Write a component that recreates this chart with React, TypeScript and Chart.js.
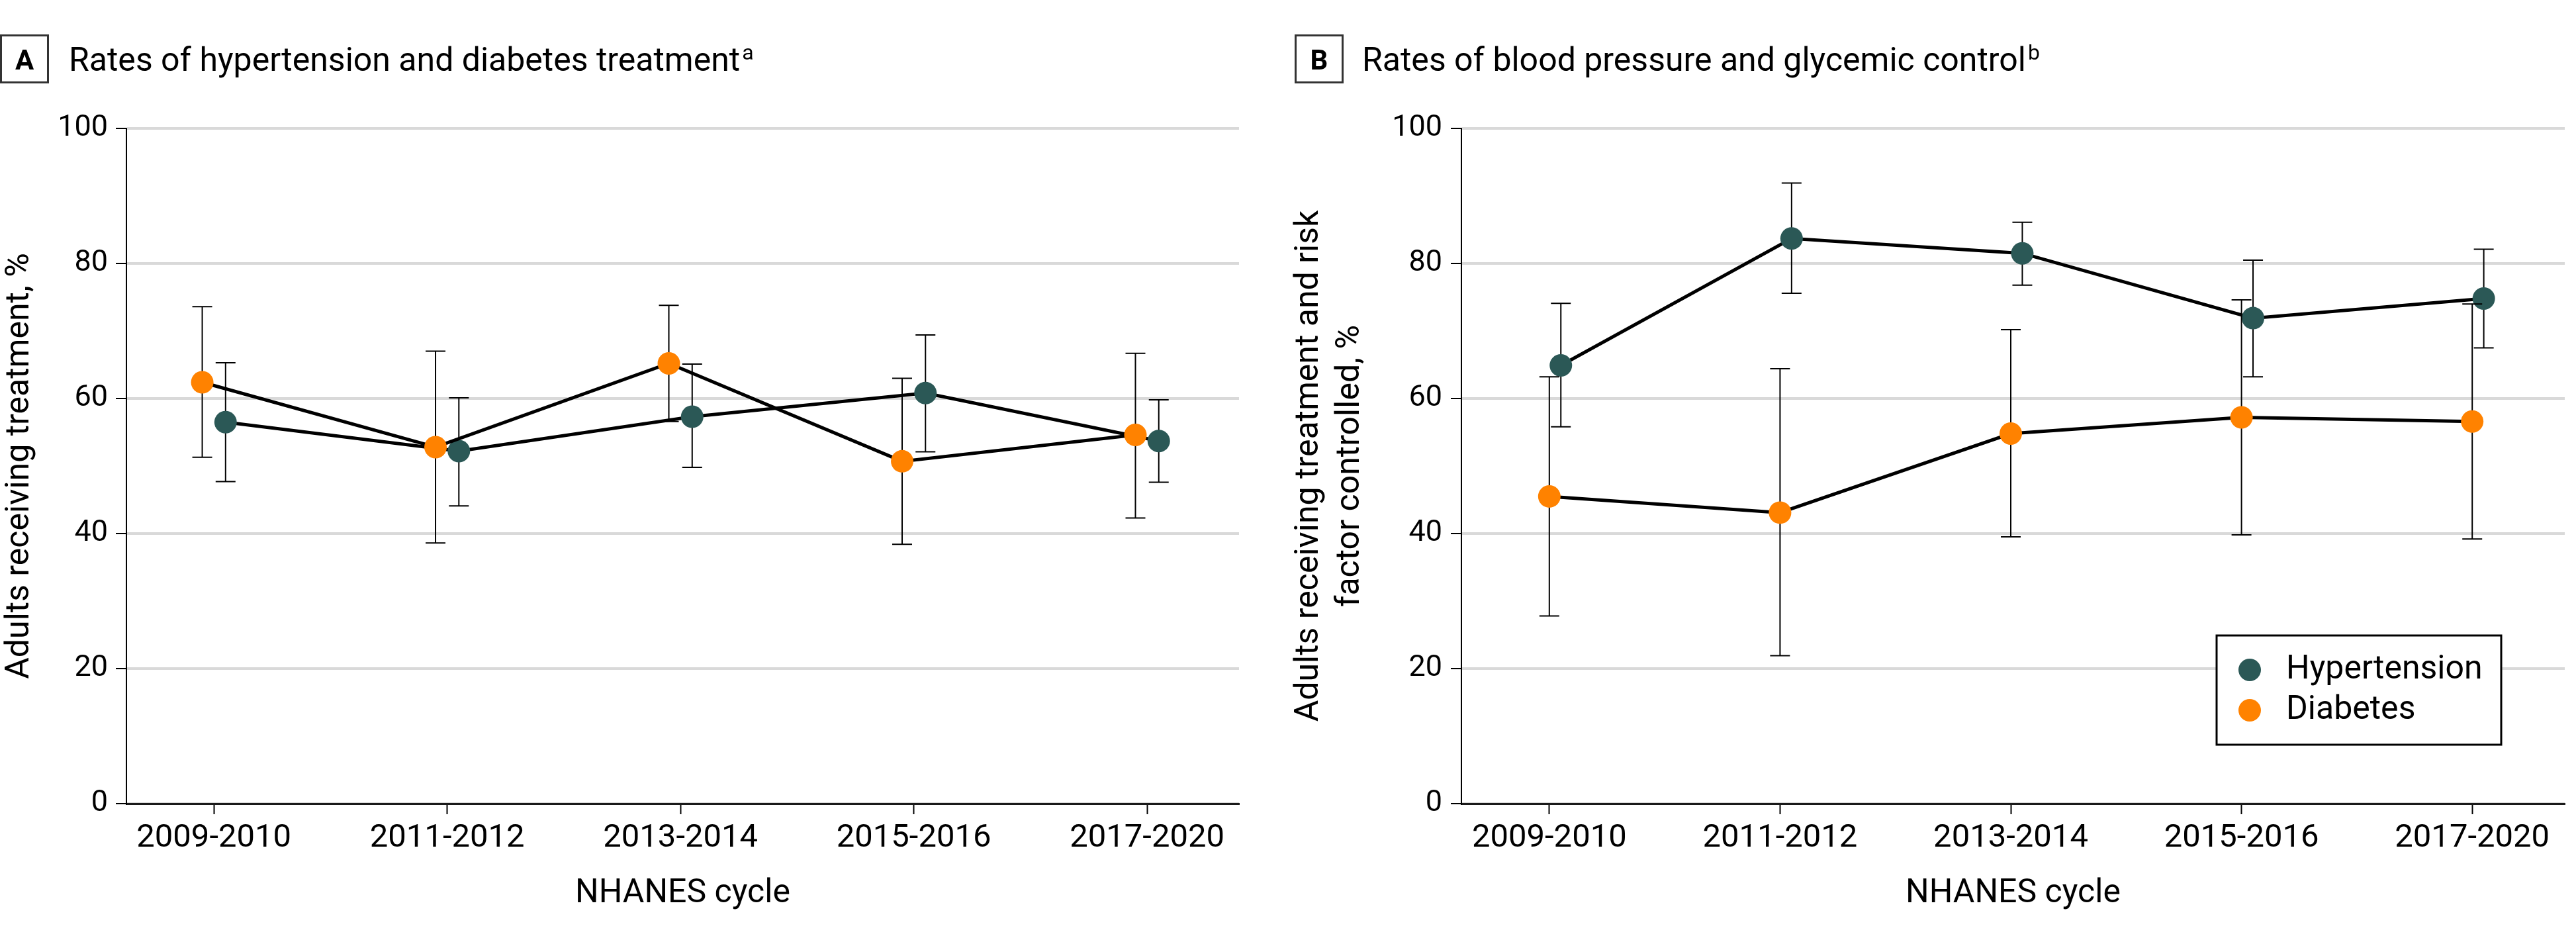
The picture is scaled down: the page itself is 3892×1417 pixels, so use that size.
import React, { useEffect, useRef } from 'react';
import { Chart, registerables } from 'chart.js';

Chart.register(...registerables);

const FONT = 'Roboto';

// ---- data ----
const CYCLES = ['2009-2010', '2011-2012', '2013-2014', '2015-2016', '2017-2020'];
const Y_MIN = 0;
const Y_MAX = 100;
const Y_STEP = 20;

// Panel A: treatment
const TREAT_HTN = [56.5, 52.2, 57.3, 60.8, 53.7];
const TREAT_HTN_LO = [47.7, 44.1, 49.8, 52.1, 47.6];
const TREAT_HTN_HI = [65.3, 60.1, 65.1, 69.4, 59.8];
const TREAT_DM = [62.4, 52.8, 65.2, 50.7, 54.6];
const TREAT_DM_LO = [51.3, 38.6, 56.6, 38.4, 42.3];
const TREAT_DM_HI = [73.6, 67.0, 73.8, 63.0, 66.7];

// Panel B: control
const CTRL_HTN = [64.9, 83.7, 81.5, 71.9, 74.8];
const CTRL_HTN_LO = [55.8, 75.6, 76.8, 63.2, 67.5];
const CTRL_HTN_HI = [74.1, 91.9, 86.1, 80.5, 82.1];
const CTRL_DM = [45.5, 43.1, 54.8, 57.2, 56.6];
const CTRL_DM_LO = [27.8, 21.9, 39.5, 39.8, 39.2];
const CTRL_DM_HI = [63.2, 64.4, 70.2, 74.6, 74.0];

const SERIES_NAMES = ['Hypertension', 'Diabetes'];
const COLOR_HTN = '#2b5856';
const COLOR_DM = '#ff8200';

type PanelCfg = {
  letter: string;
  title: string;
  sup: string;
  yTitle: string | string[];
  yTitleSize: number;
  yTitleLineHeight: number;
  yTitlePadTop: number;
  htn: number[]; htnLo: number[]; htnHi: number[];
  dm: number[]; dmLo: number[]; dmHi: number[];
  htnShift: number; dmShift: number;
  xMin: number; xMax: number;
  yAxisWidth: number; padRight: number;
  boxX: number; titleX: number;
  yTickPad: number;
  legend: boolean;
};

const headerPlugin = {
  id: 'header',
  afterDraw(chart: any, _args: any, opts: any) {
    const ctx = chart.ctx;
    ctx.save();
    ctx.strokeStyle = '#333';
    ctx.lineWidth = 3;
    ctx.strokeRect(opts.boxX + 1.5, 53.5, 71, 71);
    ctx.fillStyle = '#000';
    ctx.font = `bold 42px ${FONT}`;
    ctx.textAlign = 'center';
    ctx.textBaseline = 'alphabetic';
    ctx.fillText(opts.letter, opts.boxX + 37, 105);
    ctx.font = `50px ${FONT}`;
    ctx.textAlign = 'left';
    ctx.fillText(opts.title, opts.titleX, 107);
    const w = ctx.measureText(opts.title).width;
    ctx.font = `32px ${FONT}`;
    ctx.fillText(opts.sup, opts.titleX + w + 3, 90);
    ctx.restore();
  },
};

const errorBarPlugin = {
  id: 'errorBars',
  beforeDatasetDraw(chart: any, args: any) {
    const ds = chart.data.datasets[args.index];
    if (!ds.errLo) return;
    const ctx = chart.ctx;
    const xs = chart.scales.x;
    const ys = chart.scales.y;
    ctx.save();
    ctx.strokeStyle = '#000';
    ctx.lineWidth = 2;
    ds.data.forEach((p: any, i: number) => {
      const x = xs.getPixelForValue(p.x);
      const yl = ys.getPixelForValue(ds.errLo[i]);
      const yh = ys.getPixelForValue(ds.errHi[i]);
      ctx.beginPath();
      ctx.moveTo(x, yl);
      ctx.lineTo(x, yh);
      ctx.moveTo(x - 15, yl);
      ctx.lineTo(x + 15, yl);
      ctx.moveTo(x - 15, yh);
      ctx.lineTo(x + 15, yh);
      ctx.stroke();
    });
    ctx.restore();
  },
};

const boxLegendPlugin = {
  id: 'boxLegend',
  afterDraw(chart: any, _args: any, opts: any) {
    if (!opts.show) return;
    const ctx = chart.ctx;
    const { right, bottom } = chart.chartArea;
    const bw = 430;
    const bh = 165;
    const bx = right - 96 - bw;
    const by = bottom - 89 - bh;
    ctx.save();
    ctx.fillStyle = '#fff';
    ctx.fillRect(bx, by, bw, bh);
    ctx.strokeStyle = '#000';
    ctx.lineWidth = 3;
    ctx.strokeRect(bx, by, bw, bh);
    const items = [...chart.data.datasets].sort((a: any, b: any) => a.legendIndex - b.legendIndex);
    items.forEach((ds: any, i: number) => {
      const cy = by + 52 + i * 61;
      ctx.beginPath();
      ctx.arc(bx + 50, cy, 17, 0, Math.PI * 2);
      ctx.fillStyle = ds.backgroundColor;
      ctx.fill();
      ctx.fillStyle = '#000';
      ctx.font = `50px ${FONT}`;
      ctx.textAlign = 'left';
      ctx.textBaseline = 'middle';
      ctx.fillText(ds.label, bx + 105, cy);
    });
    ctx.restore();
  },
};

function buildChart(canvas: HTMLCanvasElement, c: PanelCfg) {
  const mk = (vals: number[], shift: number) => vals.map((v, i) => ({ x: i + shift, y: v }));
  return new Chart(canvas, {
    type: 'line',
    data: {
      datasets: [
        {
          label: SERIES_NAMES[0],
          data: mk(c.htn, c.htnShift),
          errLo: c.htnLo,
          errHi: c.htnHi,
          legendIndex: 0,
          order: 1,
          borderColor: '#000',
          borderWidth: 5,
          backgroundColor: COLOR_HTN,
          pointBackgroundColor: COLOR_HTN,
          pointBorderWidth: 0,
          pointRadius: 17,
          tension: 0,
        } as any,
        {
          label: SERIES_NAMES[1],
          data: mk(c.dm, c.dmShift),
          errLo: c.dmLo,
          errHi: c.dmHi,
          legendIndex: 1,
          order: 0,
          borderColor: '#000',
          borderWidth: 5,
          backgroundColor: COLOR_DM,
          pointBackgroundColor: COLOR_DM,
          pointBorderWidth: 0,
          pointRadius: 17,
          tension: 0,
        } as any,
      ],
    },
    options: {
      responsive: false,
      maintainAspectRatio: false,
      animation: false,
      devicePixelRatio: 1,
      layout: { padding: { left: 0, top: 194, right: c.padRight, bottom: 0 } },
      plugins: {
        legend: { display: false },
        tooltip: { enabled: false },
        title: { display: false },
        header: { letter: c.letter, title: c.title, sup: c.sup, boxX: c.boxX, titleX: c.titleX },
        boxLegend: { show: c.legend },
      } as any,
      scales: {
        x: {
          type: 'linear',
          min: c.xMin,
          max: c.xMax,
          afterBuildTicks: (s: any) => {
            s.ticks = CYCLES.map((_, i) => ({ value: i }));
          },
          afterFit: (s: any) => {
            s.height = 203;
          },
          ticks: {
            callback: (v: any) => CYCLES[Math.round(Number(v))],
            font: { family: FONT, size: 49 },
            color: '#000',
            padding: 7,
            maxRotation: 0,
            minRotation: 0,
            autoSkip: false,
          },
          grid: {
            drawOnChartArea: false,
            drawTicks: true,
            tickLength: 16,
            tickWidth: 2,
            tickColor: '#000',
          },
          border: { display: true, color: '#1a1a1a', width: 3 },
          title: {
            display: true,
            text: 'NHANES cycle',
            color: '#000',
            font: { family: FONT, size: 50 },
            padding: { top: 0, bottom: 37 },
          },
        },
        y: {
          min: Y_MIN,
          max: Y_MAX,
          afterFit: (s: any) => {
            s.width = c.yAxisWidth;
          },
          ticks: {
            stepSize: Y_STEP,
            font: { family: FONT, size: 45 },
            color: '#000',
            padding: c.yTickPad,
          },
          grid: {
            color: '#d9d9d9',
            lineWidth: 4,
            drawTicks: true,
            tickLength: 16,
            tickWidth: 2,
            tickColor: '#000',
          },
          border: { display: true, color: '#000', width: 2 },
          title: {
            display: true,
            text: c.yTitle,
            color: '#000',
            font: { family: FONT, size: c.yTitleSize, lineHeight: c.yTitleLineHeight },
            padding: { top: c.yTitlePadTop, bottom: 0 },
          },
        },
      },
    } as any,
    plugins: [errorBarPlugin, headerPlugin, boxLegendPlugin],
  });
}

const PANEL_A: PanelCfg = {
  letter: 'A',
  title: 'Rates of hypertension and diabetes treatment',
  sup: 'a',
  yTitle: 'Adults receiving treatment, %',
  yTitleSize: 50,
  yTitleLineHeight: 1.2,
  yTitlePadTop: 0,
  htn: TREAT_HTN, htnLo: TREAT_HTN_LO, htnHi: TREAT_HTN_HI,
  dm: TREAT_DM, dmLo: TREAT_DM_LO, dmHi: TREAT_DM_HI,
  htnShift: 0.05, dmShift: -0.05,
  xMin: -0.375, xMax: 4.394,
  yAxisWidth: 191, padRight: 58,
  boxX: 0, titleX: 104,
  yTickPad: 12,
  legend: false,
};

const PANEL_B: PanelCfg = {
  letter: 'B',
  title: 'Rates of blood pressure and glycemic control',
  sup: 'b',
  yTitle: ['Adults receiving treatment and risk', 'factor controlled, %'],
  yTitleSize: 50,
  yTitleLineHeight: 1.24,
  yTitlePadTop: 17,
  htn: CTRL_HTN, htnLo: CTRL_HTN_LO, htnHi: CTRL_HTN_HI,
  dm: CTRL_DM, dmLo: CTRL_DM_LO, dmHi: CTRL_DM_HI,
  htnShift: 0.05, dmShift: 0,
  xMin: -0.381, xMax: 4.401,
  yAxisWidth: 278, padRight: 2,
  boxX: 26, titleX: 128,
  yTickPad: 13,
  legend: true,
};

export default function App() {
  const refA = useRef<HTMLCanvasElement>(null);
  const refB = useRef<HTMLCanvasElement>(null);

  useEffect(() => {
    const a = buildChart(refA.current!, PANEL_A);
    const b = buildChart(refB.current!, PANEL_B);
    return () => {
      a.destroy();
      b.destroy();
    };
  }, []);

  return (
    <div style={{ position: 'absolute', left: 0, top: 0, width: 3892, height: 1417, background: '#fff' }}>
      <canvas
        ref={refA}
        width={1930}
        height={1417}
        style={{ position: 'absolute', left: 0, top: 0, width: 1930, height: 1417 }}
      />
      <canvas
        ref={refB}
        width={1962}
        height={1417}
        style={{ position: 'absolute', left: 1930, top: 0, width: 1962, height: 1417 }}
      />
    </div>
  );
}
